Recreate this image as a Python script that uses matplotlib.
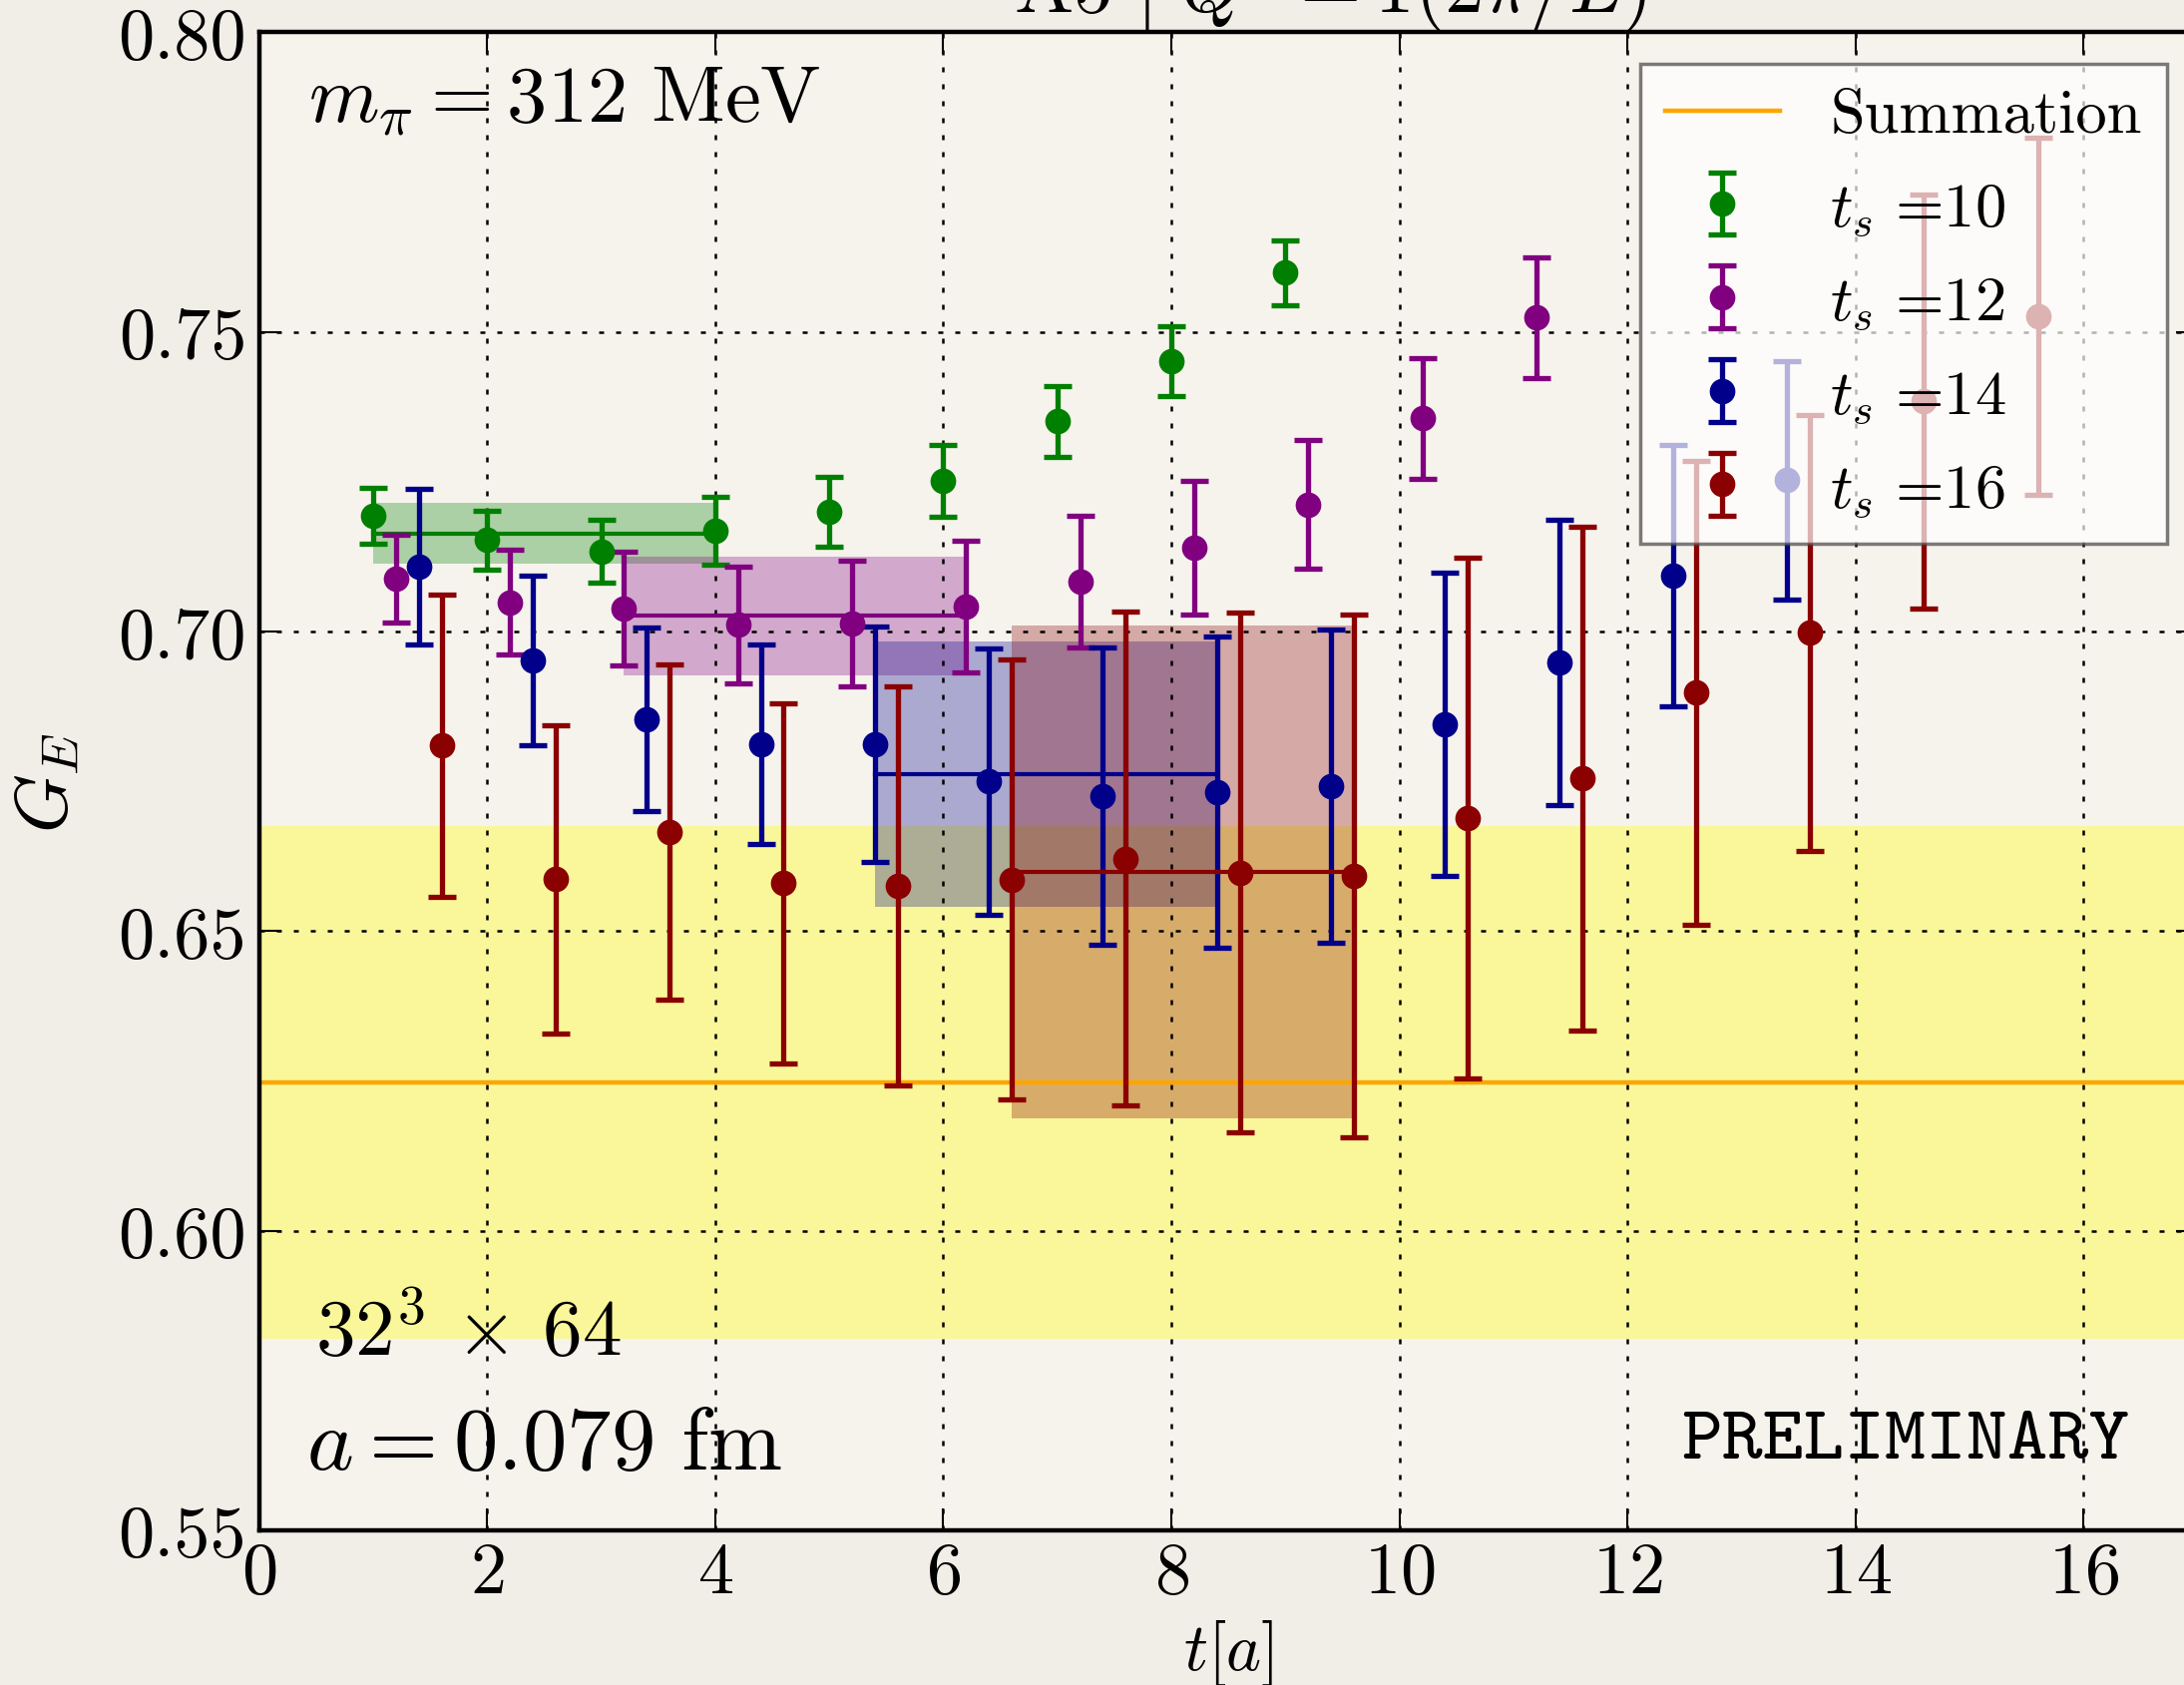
import numpy as np
import matplotlib
matplotlib.use('Agg')
import matplotlib.pyplot as plt
from matplotlib.ticker import FormatStrFormatter, MultipleLocator

# G_E(t) for the four source-sink separations
t10 = [1, 2, 3, 4, 5, 6, 7, 8, 9]
g10 = [0.7193, 0.7153, 0.7134, 0.7168, 0.7200, 0.7252, 0.7351, 0.7451, 0.7599]
e10 = [0.0047, 0.0049, 0.0052, 0.0057, 0.0058, 0.0060, 0.0059, 0.0058, 0.0054]

t12 = [1, 2, 3, 4, 5, 6, 7, 8, 9, 10, 11]
g12 = [0.7088, 0.7049, 0.7039, 0.7011, 0.7013, 0.7042, 0.7083, 0.7140, 0.7212, 0.7356, 0.7524]
e12 = [0.0073, 0.0087, 0.0095, 0.0098, 0.0105, 0.0110, 0.0110, 0.0112, 0.0107, 0.0101, 0.0101]

t14 = [1, 2, 3, 4, 5, 6, 7, 8, 9, 10, 11, 12, 13]
g14 = [0.7109, 0.6952, 0.6854, 0.6812, 0.6812, 0.6750, 0.6726, 0.6732, 0.6742, 0.6845,
       0.6948, 0.7094, 0.7253]
e14 = [0.0130, 0.0141, 0.0153, 0.0167, 0.0197, 0.0222, 0.0248, 0.0260, 0.0261, 0.0253,
       0.0238, 0.0218, 0.0199]

t16 = [1, 2, 3, 4, 5, 6, 7, 8, 9, 10, 11, 12, 13, 14, 15]
g16 = [0.6810, 0.6587, 0.6666, 0.6580, 0.6576, 0.6586, 0.6621, 0.6598, 0.6592, 0.6689,
       0.6755, 0.6898, 0.6998, 0.7384, 0.7527]
e16 = [0.0252, 0.0257, 0.0280, 0.0300, 0.0333, 0.0367, 0.0412, 0.0434, 0.0436, 0.0435,
       0.0420, 0.0387, 0.0364, 0.0345, 0.0298]

# plateau fits (range in t, value, error)
fit_lo = [1.0, 3.2, 5.4, 6.6]
fit_hi = [4.0, 6.2, 8.4, 9.6]
fit_val = [0.7164, 0.7026, 0.6762, 0.6599]
fit_err = [0.0051, 0.0099, 0.0222, 0.0411]

# summation method result
summ_val = 0.6248
summ_err = 0.0428

labels = [r'$t_s\ $=10', r'$t_s\ $=12', r'$t_s\ $=14', r'$t_s\ $=16']

plt.rcParams['font.family'] = 'serif'
plt.rcParams['font.serif'] = ['cmr10']
plt.rcParams['mathtext.fontset'] = 'cm'
plt.rcParams['axes.formatter.use_mathtext'] = True

fig = plt.figure(figsize=(21.89, 16.90), dpi=100, facecolor='#f1eee8')
ax = fig.add_axes([0.1186, 0.0917, 0.8877, 0.8885])
ax.set_facecolor('#f6f3ed')

ax.axhspan(summ_val - summ_err, summ_val + summ_err, color='yellow', alpha=0.35, lw=0)
summ_line = ax.axhline(summ_val, color='orange', lw=3.2)

series = [(t10, g10, e10, 0.0, 'green'),
          (t12, g12, e12, 0.2, 'purple'),
          (t14, g14, e14, 0.4, 'darkblue'),
          (t16, g16, e16, 0.6, 'darkred')]
handles = []
for i, (t, g, e, shift, col) in enumerate(series):
    ax.fill_between([fit_lo[i], fit_hi[i]], fit_val[i] - fit_err[i], fit_val[i] + fit_err[i],
                    color=col, alpha=0.3, lw=0)
    ax.plot([fit_lo[i], fit_hi[i]], [fit_val[i], fit_val[i]], color=col, lw=3)
    x = np.array(t) + shift
    h = ax.errorbar(x, g, yerr=e, fmt='o', color=col, ms=17.5, elinewidth=3.8,
                    capsize=10, capthick=3.8)
    handles.append(h)

ax.set_xlim(0, 17)
ax.set_ylim(0.55, 0.80)
ax.xaxis.set_major_locator(MultipleLocator(2))
ax.yaxis.set_major_locator(MultipleLocator(0.05))
ax.yaxis.set_major_formatter(FormatStrFormatter('%.2f'))
ax.tick_params(direction='in', length=16, width=1.5, top=True, right=True, labelsize=52)
ax.tick_params(axis='y', pad=9)
ax.tick_params(axis='x', pad=8)
for s in ax.spines.values():
    s.set_linewidth(3.2)
ax.grid(True, color='k', linestyle=(0, (2, 4.8)), linewidth=1.8)

ax.set_xlabel(r'$t[a]$', fontsize=48, labelpad=8)
ax.set_ylabel(r'$G_E$', fontsize=54, labelpad=26)

leg = ax.legend([summ_line] + handles, ['Summation'] + labels, loc='upper right',
                fontsize=45, framealpha=0.7, edgecolor='#444444', fancybox=False,
                labelspacing=0.6, borderaxespad=0.5, handlelength=1.85)
leg.get_frame().set_linewidth(2.5)

ax.text(0.0253, 0.9414, r'$m_\pi = 312\ \mathrm{MeV}$', transform=ax.transAxes,
        fontsize=58, va='baseline')
ax.text(0.0289, 0.117, r'$32^3\,\times\,64$', transform=ax.transAxes,
        fontsize=57, va='baseline')
ax.text(0.0242, 0.0411, r'$a = 0.079\ \mathrm{fm}$', transform=ax.transAxes,
        fontsize=64, va='baseline')
ax.text(0.8494, 0.0488, 'PRELIMINARY', transform=ax.transAxes, fontsize=56,
        family='cmtt10', va='baseline', ha='center')
ax.text(0.389, 1.0143, r'$\mathrm{A5}\ |\ Q^2 = 1(2\pi/L)^2$', transform=ax.transAxes,
        fontsize=57, va='baseline')

fig.savefig('out.png', dpi=100, facecolor=fig.get_facecolor())
